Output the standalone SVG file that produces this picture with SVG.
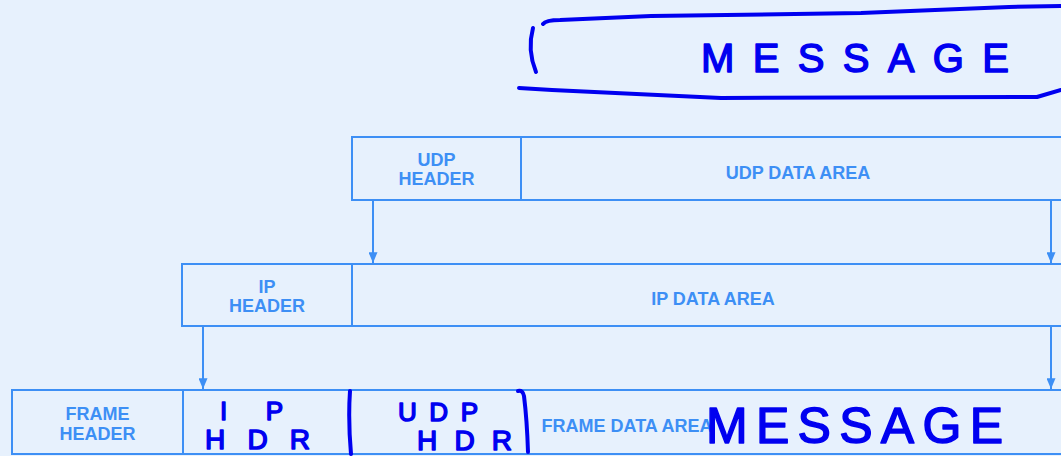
<svg xmlns="http://www.w3.org/2000/svg" width="1061" height="456" viewBox="0 0 1061 456">
<style>
.box{fill:none;stroke:#3d8ff5;stroke-width:2}
.lbl{font-family:"Liberation Sans",Arial,sans-serif;font-weight:bold;font-size:18px;fill:#3d8ff5;text-anchor:middle}
.conn{stroke:#3d8ff5;stroke-width:2;fill:none}
.hw{fill:none;stroke:#0000f0;stroke-width:4;stroke-linecap:round;stroke-linejoin:round}
.hwt{font-family:"Liberation Sans",Arial,sans-serif;fill:#0000f0;stroke:#0000f0;stroke-width:1.5;stroke-linejoin:round}
</style>
<defs>
<marker id="arr" viewBox="0 0 12 10" refX="12" refY="5" markerWidth="12" markerHeight="9" markerUnits="userSpaceOnUse" orient="auto">
<path d="M0,0 L12,5 L0,10 Z" fill="#3d8ff5"/>
</marker>
</defs>
<rect width="1061" height="456" fill="#e7f1fd"/>

<g id="udp-header"><rect class="box" x="352" y="137" width="169" height="63"/><text class="lbl" x="436.5" y="166">UDP</text><text class="lbl" x="436.5" y="185">HEADER</text></g>
<g id="udp-data"><rect class="box" x="521" y="137" width="554" height="63"/><text class="lbl" x="798" y="179">UDP DATA AREA</text></g>

<g id="ip-header"><rect class="box" x="182" y="264" width="170" height="62"/><text class="lbl" x="267" y="293">IP</text><text class="lbl" x="267" y="312">HEADER</text></g>
<g id="ip-data"><rect class="box" x="352" y="264" width="723" height="62"/><text class="lbl" x="713" y="305">IP DATA AREA</text></g>

<g id="frame-header"><rect class="box" x="12" y="390" width="171" height="64"/><text class="lbl" x="97.5" y="420">FRAME</text><text class="lbl" x="97.5" y="440">HEADER</text></g>
<g id="frame-data"><rect class="box" x="183" y="390" width="892" height="64"/><text class="lbl" x="627" y="432">FRAME DATA AREA</text></g>

<g id="connectors">
<line class="conn" x1="373" y1="200" x2="373" y2="263" marker-end="url(#arr)"/>
<line class="conn" x1="1051" y1="200" x2="1051" y2="263" marker-end="url(#arr)"/>
<line class="conn" x1="203" y1="326" x2="203" y2="389" marker-end="url(#arr)"/>
<line class="conn" x1="1051" y1="326" x2="1051" y2="389" marker-end="url(#arr)"/>
</g>

<g id="annotations">
<path class="hw" d="M533,28 Q527,50 536,72"/>
<path class="hw" d="M543,24 Q546,20 560,20 L651,16 L861,13 L1009,7 L1061,6"/>
<path class="hw" d="M519,88 L552,90 L721,98 L1037,97 L1061,90"/>
<text class="hwt" x="701" y="72" font-size="40" textLength="308" lengthAdjust="spacing">MESSAGE</text>
<text class="hwt" x="220" y="420" font-size="26" textLength="63" lengthAdjust="spacing">IP</text>
<text class="hwt" x="205" y="449" font-size="28" textLength="105" lengthAdjust="spacing">HDR</text>
<path class="hw" d="M350,391 Q348,420 351,454"/>
<text class="hwt" x="398" y="421" font-size="26" textLength="80" lengthAdjust="spacing">UDP</text>
<text class="hwt" x="417" y="450" font-size="28" textLength="95" lengthAdjust="spacing">HDR</text>
<path class="hw" d="M518,391 Q523,390 524,396 Q527,420 528,452"/>
<text class="hwt" x="706" y="443" font-size="50" textLength="297" lengthAdjust="spacing">MESSAGE</text>
</g>
</svg>
